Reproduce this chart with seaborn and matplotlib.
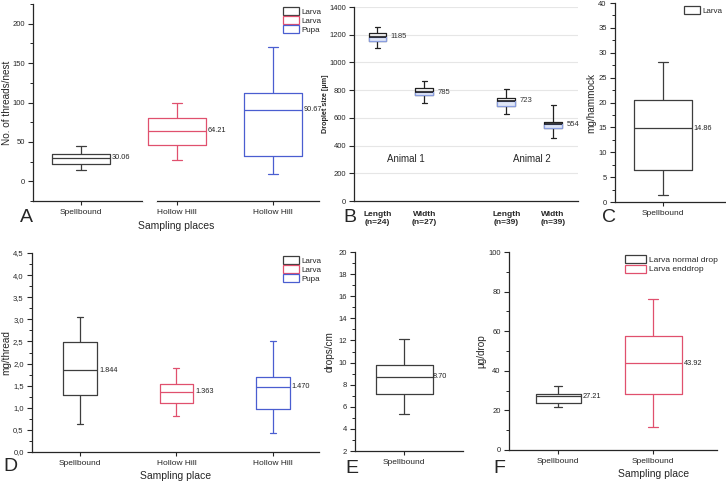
import numpy as np
import seaborn as sns
import matplotlib.pyplot as plt
from matplotlib.patches import Patch
from matplotlib.ticker import MultipleLocator, FuncFormatter
import matplotlib.transforms as mtransforms

# ---- data (five-number summaries) ----
# A: threads per nest
a_pos = [0, 1, 2]
a_ticks = ["Spellbound", "Hollow Hill", "Hollow Hill"]
a_min = [14, 27.4, 9.7]
a_q1 = [22, 46.4, 31.6]
a_med = [30.06, 64.21, 90.67]
a_q3 = [35, 80.6, 112]
a_max = [45, 99, 170]

# B: droplet size
b_pos = [0, 1, 2.75, 3.75]
b_ticks = ["Length\n(n=24)", "Width\n(n=27)", "Length\n(n=39)", "Width\n(n=39)"]
b_min = [1102, 709, 628, 452]
b_q1 = [1157, 763, 685, 524]
b_med = [1185, 785, 723, 554]
b_q3 = [1214, 813, 741, 572]
b_max = [1253, 868, 806, 690]
b_groups = ["Animal 1", "Animal 2"]

# C: mg per hammock
c_pos = [0]
c_ticks = ["Spellbound"]
c_min = [1.4]
c_q1 = [6.45]
c_med = [14.86]
c_q3 = [20.6]
c_max = [28.2]

# D: mg per thread
d_pos = [0, 1, 2]
d_ticks = ["Spellbound", "Hollow Hill", "Hollow Hill"]
d_min = [0.63, 0.82, 0.44]
d_q1 = [1.30, 1.11, 0.975]
d_med = [1.844, 1.363, 1.470]
d_q3 = [2.49, 1.53, 1.69]
d_max = [3.06, 1.91, 2.51]

# E: drops per cm
e_pos = [0]
e_ticks = ["Spellbound"]
e_min = [5.32]
e_q1 = [7.19]
e_med = [8.70]
e_q3 = [9.81]
e_max = [12.13]

# F: µg per drop
f_pos = [0, 1]
f_ticks = ["Spellbound", "Spellbound"]
f_min = [21.6, 11.8]
f_q1 = [23.9, 28.5]
f_med = [27.21, 43.92]
f_q3 = [28.5, 57.8]
f_max = [32.5, 76.2]

legend_abd = ["Larva", "Larva", "Pupa"]
legend_c = ["Larva"]
legend_f = ["Larva normal drop", "Larva enddrop"]

GRAY = "#3d3d3d"
RED = "#e0506e"
BLUE = "#4a5ed0"

sns.set_style("ticks")
plt.rcParams["font.family"] = ["Liberation Sans", "DejaVu Sans"]
plt.rcParams["axes.linewidth"] = 0.9

W, H = 726, 482
fig = plt.figure(figsize=(W / 100, H / 100), dpi=100)


def add_ax(x0, y0, x1, y1):
    return fig.add_axes([x0 / W, 1 - y1 / H, (x1 - x0) / W, (y1 - y0) / H])


def draw_boxes(ax, pos, mins, q1, med, q3, mx, colors, widths, fmt, gap=0.02):
    for p, a, b, c, d, e, col, w in zip(pos, mins, q1, med, q3, mx, colors, widths):
        vals = np.array([a, b, c, d, e], dtype=float)
        sns.boxplot(x=np.full(5, float(p)), y=vals, orient="x", native_scale=True,
                    width=w, color=col, fill=False, whis=np.inf, linewidth=0.9,
                    capwidths=0.18 * w, ax=ax)
        ax.text(p + w / 2 + gap, c, fmt.format(c), va="center", ha="left",
                fontsize=5.3, color="#222222")


def style_ax(ax):
    sns.despine(ax=ax)
    ax.tick_params(axis="y", which="major", length=3.5, width=0.8, labelsize=5.5, pad=2.5)
    ax.tick_params(axis="y", which="minor", length=2, width=0.7)
    ax.tick_params(axis="x", length=3, width=0.8, labelsize=6, pad=3)


def ylabel_px(ax, text, px_right, fontsize=7.2, **kw):
    # px_right: figure pixel x of the label's right edge
    ax.set_ylabel(text, fontsize=fontsize, **kw)
    x0 = ax.get_position().x0 * W
    w = ax.get_position().width * W
    ax.yaxis.set_label_coords((px_right - x0) / w, 0.5)


def xlabel_px(ax, text, px_cx, px_top, fontsize=7.5):
    ax.set_xlabel(text, fontsize=fontsize)
    pos = ax.get_position()
    ax.xaxis.set_label_coords((px_cx - pos.x0 * W) / (pos.width * W),
                              ((H - px_top) - pos.y0 * H) / (pos.height * H))


def legend(ax, labels, colors, anchor, fontsize=5.8, handlelength=2.0):
    handles = [Patch(facecolor="white", edgecolor=c, linewidth=0.9) for c in colors]
    ax.legend(handles, labels, loc="upper right", bbox_to_anchor=anchor, frameon=False,
              fontsize=fontsize, handlelength=handlelength, handleheight=1.1,
              handletextpad=0.3, labelspacing=0.05, borderaxespad=0)


# ---------------- Panel A ----------------
axA = add_ax(33, 4, 319, 201)
draw_boxes(axA, a_pos, a_min, a_q1, a_med, a_q3, a_max, [GRAY, RED, BLUE],
           [0.6, 0.6, 0.6], "{:.2f}")
axA.set_xlim(-0.5, 2.48)
axA.set_ylim(-25, 225)
axA.yaxis.set_major_locator(MultipleLocator(50))
axA.yaxis.set_minor_locator(MultipleLocator(25))
axA.set_xticks(a_pos)
axA.set_xticklabels(a_ticks)
style_ax(axA)
xlabel_px(axA, "Sampling places", 176, 221)
ylabel_px(axA, "No. of threads/nest", 12)
# broken axis gap
axA.plot([0.67, 0.77], [0, 0], color="white", lw=3,
         transform=mtransforms.blended_transform_factory(axA.transData, axA.transAxes),
         clip_on=False, zorder=5)
legend(axA, legend_abd, [GRAY, RED, BLUE], (1.02, 1.0))

# ---------------- Panel B ----------------
axB = add_ax(354, 7, 578, 201)
axB.yaxis.grid(True, color="#e6e6e6", lw=0.8, zorder=0)
axB.set_axisbelow(True)
for p, b, c, d, e, m in zip(b_pos, b_q1, b_med, b_q3, b_max, b_min):
    vals = np.array([m, b, c, d, e], dtype=float)
    sns.boxplot(x=np.full(5, float(p)), y=vals, orient="x", native_scale=True,
                width=0.38, color="#222222", fill=False, whis=np.inf, linewidth=0.9,
                capwidths=0.1, ax=axB)
axB.bar(b_pos, np.array(b_med) - np.array(b_q1), bottom=b_q1, width=0.38,
        color="#dfe6f6", edgecolor="#8a9ee0", linewidth=0.9, zorder=3)
for p, c in zip(b_pos, b_med):
    axB.hlines(c, p - 0.19, p + 0.19, color="#111111", lw=1.1, zorder=4)
    axB.text(p + 0.28, c, "{:.0f}".format(c), va="center", ha="left", fontsize=5.5, color="#333333")
axB.text(np.mean(b_pos[:2]) + 0.1, 300, b_groups[0], ha="center", va="center", fontsize=7)
axB.text(np.mean(b_pos[2:]) + 0.05, 300, b_groups[1], ha="center", va="center", fontsize=7)
axB.set_xlim(-0.5, 4.28)
axB.set_ylim(0, 1400)
axB.yaxis.set_major_locator(MultipleLocator(200))
axB.set_xticks(b_pos)
axB.set_xticklabels(b_ticks, fontweight="bold", fontsize=5.8)
style_ax(axB)
axB.tick_params(axis="y", pad=2)
axB.tick_params(axis="x", length=0, pad=7)
ylabel_px(axB, "Droplet size [µm]", 329, fontsize=5.2, fontweight="bold")

# ---------------- Panel C ----------------
axC = add_ax(615, 3, 726, 202)
draw_boxes(axC, c_pos, c_min, c_q1, c_med, c_q3, c_max, [GRAY], [0.6], "{:.2f}")
axC.set_xlim(-0.5, 0.66)
axC.set_ylim(0, 40)
axC.yaxis.set_major_locator(MultipleLocator(5))
axC.yaxis.set_minor_locator(MultipleLocator(2.5))
axC.set_xticks(c_pos)
axC.set_xticklabels(c_ticks)
style_ax(axC)
ylabel_px(axC, "mg/hammock", 596)
legend(axC, legend_c, [GRAY], (1.0, 1.0))

# ---------------- Panel D ----------------
axD = add_ax(32, 253, 319, 452)
draw_boxes(axD, d_pos, d_min, d_q1, d_med, d_q3, d_max, [GRAY, RED, BLUE],
           [0.35, 0.35, 0.35], "{:.3f}")
axD.set_xlim(-0.5, 2.48)
axD.set_ylim(0, 4.5)
axD.yaxis.set_major_locator(MultipleLocator(0.5))
axD.yaxis.set_minor_locator(MultipleLocator(0.25))
axD.yaxis.set_major_formatter(FuncFormatter(lambda v, _: f"{v:.1f}".replace(".", ",")))
axD.set_xticks(d_pos)
axD.set_xticklabels(d_ticks)
style_ax(axD)
xlabel_px(axD, "Sampling place", 176, 471)
ylabel_px(axD, "mg/thread", 11)
legend(axD, legend_abd, [GRAY, RED, BLUE], (1.02, 1.0))

# ---------------- Panel E ----------------
axE = add_ax(355, 252, 463, 451)
draw_boxes(axE, e_pos, e_min, e_q1, e_med, e_q3, e_max, [GRAY], [0.58], "{:.2f}", gap=0.0)
axE.set_xlim(-0.5, 0.6)
axE.set_ylim(2, 20)
axE.yaxis.set_major_locator(MultipleLocator(2))
axE.yaxis.set_minor_locator(MultipleLocator(1))
axE.set_xticks(e_pos)
axE.set_xticklabels(e_ticks)
style_ax(axE)
ylabel_px(axE, "drops/cm", 335)

# ---------------- Panel F ----------------
axF = add_ax(509, 252, 717, 450)
draw_boxes(axF, f_pos, f_min, f_q1, f_med, f_q3, f_max, [GRAY, RED], [0.48, 0.6], "{:.2f}")
axF.set_xlim(-0.52, 1.67)
axF.set_ylim(0, 100)
axF.yaxis.set_major_locator(MultipleLocator(20))
axF.yaxis.set_minor_locator(MultipleLocator(10))
axF.set_xticks(f_pos)
axF.set_xticklabels(f_ticks)
style_ax(axF)
xlabel_px(axF, "Sampling place", 654, 469)
ylabel_px(axF, "µg/drop", 486)
legend(axF, legend_f, [GRAY, RED], (1.02, 1.0), fontsize=6, handlelength=2.6)

# panel letters
for letter, x, y in [("A", 20, 222), ("B", 343, 222), ("C", 602, 222),
                     ("D", 3, 471), ("E", 345, 473), ("F", 493, 473)]:
    fig.text(x / W, 1 - y / H, letter, fontsize=14, ha="left", va="baseline")

fig.savefig("out.png", dpi=100)
